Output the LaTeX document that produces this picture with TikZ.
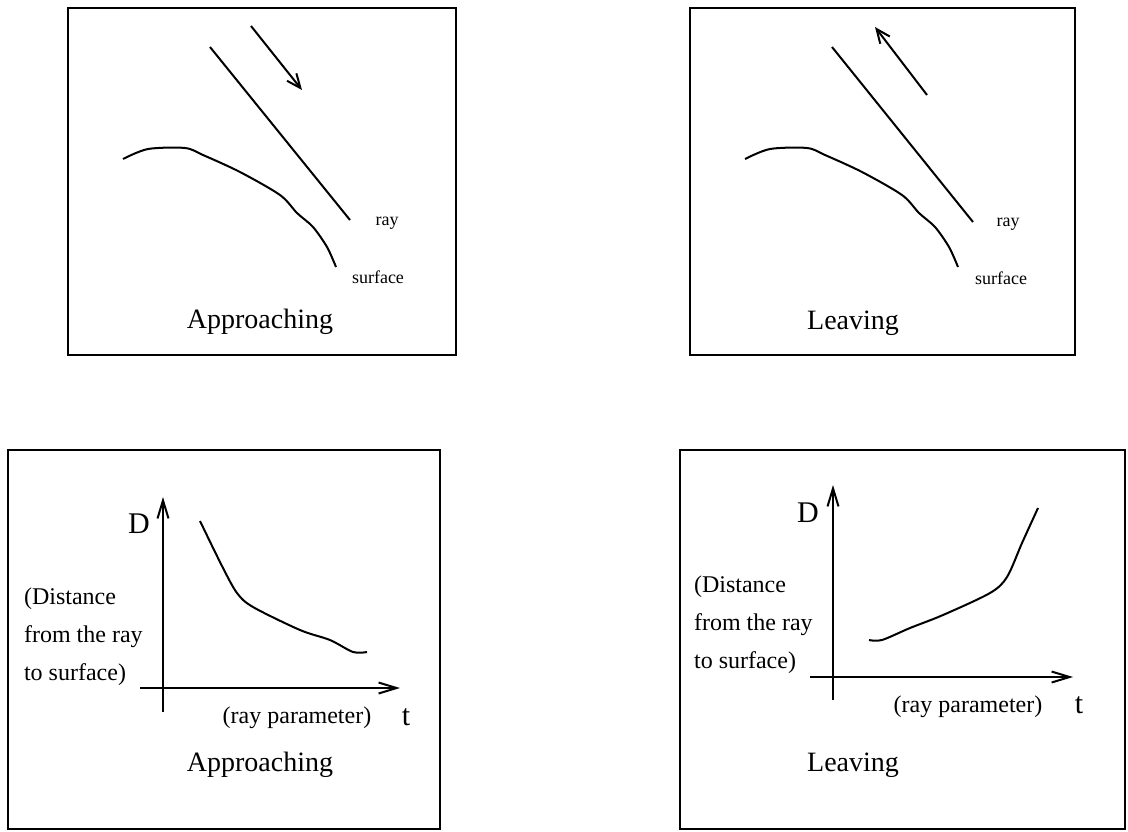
\documentclass[tikz,border=0pt]{standalone}
\usepackage{fontspec}
\setmainfont{Liberation Serif}
\usetikzlibrary{arrows.meta}

\begin{document}
\begin{tikzpicture}[x=0.5pt, y=-0.5pt,
    panel/.style={draw, line width=0.8pt},
    curve/.style={line width=1pt, smooth, tension=0.5},
    arr/.style={-{Straight Barb[length=7pt, width=6pt]}, line width=1pt},
    axis/.style={-{Straight Barb[length=9pt, width=5.5pt]}, line width=1pt},
    small/.style={font=\fontsize{9}{11}\selectfont},
    title/.style={font=\fontsize{14}{17}\selectfont},
    axlbl/.style={font=\fontsize{15}{17}\selectfont},
    lbl/.style={font=\fontsize{12}{19}\selectfont, align=left}
  ]
  \useasboundingbox (0,0) rectangle (1128,831);

  % --- top left: approaching
  \draw[panel] (68,8) rectangle (456,355);
  \draw[line width=1pt] (210,47) -- (350,220);
  \draw[arr] (251,26) -- (302,90);
  \draw[curve] plot coordinates {(123,159) (148,149) (185,148) (203,155)
    (240,172) (280,195) (297,213) (313,227) (327,247) (336,267)};
  \node[small] (rayA) at (387,223) {ray};
  \node[small] (surfA) at (378,277) {surface};
  \node[title] (appA) at (260,322) {Approaching};

  % --- top right: leaving
  \begin{scope}[xshift=311pt]
  \draw[panel] (68,8) rectangle (453,355);
  \draw[line width=1pt] (210,47) -- (351,222);
  \draw[arr] (305,95) -- (253,27);
  \draw[curve] plot coordinates {(123,159) (148,149) (185,148) (203,155)
    (240,172) (280,195) (297,213) (313,227) (327,247) (336,267)};
  \node[small] (rayL) at (386,224) {ray};
  \node[small] (surfL) at (379,278) {surface};
  \node[title] (leaveA) at (231,323) {Leaving};
  \end{scope}

  % --- bottom left: D(t) approaching
  \draw[panel] (8,450) rectangle (440,829);
  \draw[axis] (163,712) -- (163,497);
  \draw[axis] (140,688) -- (400,688);
  \draw[curve] plot coordinates {(200,521) (222,566) (237,593) (253,607)
    (300,630) (330,640) (353,652) (367,652)};
  \node[axlbl] (DA) at (139,524) {D};
  \node[lbl, anchor=west] (distA) at (17,637) {(Distance\\from the ray\\to surface)};
  \node[lbl] (parA) at (297,718) {(ray parameter)};
  \node[axlbl] (tA) at (406,717) {t};
  \node[title] (appB) at (260,765) {Approaching};

  % --- bottom right: D(t) leaving
  \draw[panel] (680,450) rectangle (1125,829);
  \draw[axis] (833,700) -- (833,485);
  \draw[axis] (810,677) -- (1073,677);
  \draw[curve] plot coordinates {(869,640) (882,640) (910,628) (943,615)
    (990,593) (1007,577) (1022,543) (1038,508)};
  \node[axlbl] (DL) at (808,513) {D};
  \node[lbl, anchor=west] (distL) at (687,625) {(Distance\\from the ray\\to surface)};
  \node[lbl] (parL) at (968,707) {(ray parameter)};
  \node[axlbl] (tL) at (1079,705) {t};
  \node[title] (leaveB) at (853,765) {Leaving};
\end{tikzpicture}
\end{document}
